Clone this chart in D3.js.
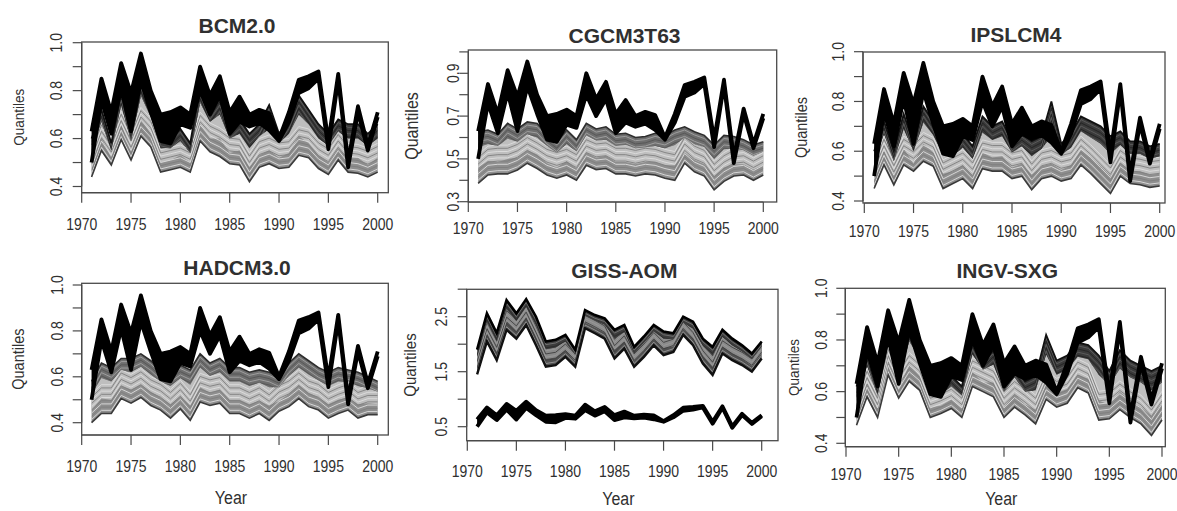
<!DOCTYPE html>
<html>
<head>
<meta charset="utf-8">
<script src="https://cdn.jsdelivr.net/npm/d3@7"></script>
<style>
  html, body { margin: 0; padding: 0; background: #fff; }
  svg { display: block; }
  text { font-family: "Liberation Sans", Arial, sans-serif; fill: #303030; }
</style>
</head>
<body>
<svg id="chart" width="1177" height="511"></svg>
<script>
const years = [1971, 1972, 1973, 1974, 1975, 1976, 1977, 1978, 1979, 1980,
               1981, 1982, 1983, 1984, 1985, 1986, 1987, 1988, 1989, 1990,
               1991, 1992, 1993, 1994, 1995, 1996, 1997, 1998, 1999, 2000];
const xTicks = [1970, 1975, 1980, 1985, 1990, 1995, 2000];

// observed quantile band (black), same in every panel
const obsHi = [0.63, 0.85, 0.71, 0.915, 0.79, 0.955, 0.80, 0.70, 0.71, 0.73, 0.70, 0.90, 0.78, 0.86, 0.71,
               0.775, 0.70, 0.72, 0.705, 0.60, 0.71, 0.845, 0.86, 0.88, 0.59, 0.87, 0.505, 0.735, 0.57, 0.71];
const obsLo = [0.50, 0.76, 0.62, 0.81, 0.63, 0.84, 0.71, 0.59, 0.58, 0.66, 0.645, 0.80, 0.70, 0.78, 0.62,
               0.67, 0.65, 0.665, 0.635, 0.59, 0.67, 0.79, 0.81, 0.85, 0.555, 0.845, 0.48, 0.71, 0.55, 0.69];

// model quantiles: lowest, lower-middle, upper-middle, highest
const bcmLo = [0.44, 0.55, 0.49, 0.595, 0.51, 0.61, 0.565, 0.46, 0.47, 0.48, 0.46, 0.59, 0.545, 0.525, 0.495,
               0.49, 0.42, 0.48, 0.495, 0.475, 0.48, 0.53, 0.52, 0.475, 0.45, 0.51, 0.46, 0.455, 0.44, 0.46];
const bcmQ1 = [0.49, 0.60, 0.52, 0.66, 0.55, 0.68, 0.62, 0.50, 0.51, 0.53, 0.50, 0.66, 0.60, 0.60, 0.54,
               0.55, 0.48, 0.53, 0.55, 0.52, 0.54, 0.61, 0.58, 0.53, 0.50, 0.56, 0.52, 0.52, 0.49, 0.52];
const bcmQ2 = [0.55, 0.67, 0.55, 0.74, 0.59, 0.78, 0.69, 0.56, 0.56, 0.59, 0.54, 0.75, 0.67, 0.70, 0.60,
               0.62, 0.56, 0.61, 0.64, 0.58, 0.62, 0.70, 0.66, 0.60, 0.57, 0.63, 0.60, 0.60, 0.57, 0.60];
const bcmHi = [0.60, 0.72, 0.58, 0.80, 0.63, 0.85, 0.75, 0.61, 0.60, 0.64, 0.58, 0.82, 0.72, 0.78, 0.64,
               0.68, 0.62, 0.66, 0.74, 0.62, 0.68, 0.78, 0.72, 0.66, 0.62, 0.68, 0.66, 0.66, 0.62, 0.66];

const cgcmLo = [0.386, 0.425, 0.43, 0.43, 0.448, 0.48, 0.455, 0.425, 0.41, 0.425, 0.40, 0.47, 0.45, 0.455, 0.43,
                0.43, 0.42, 0.43, 0.425, 0.41, 0.40, 0.48, 0.44, 0.42, 0.355, 0.395, 0.42, 0.425, 0.40, 0.425];
const cgcmQ1 = [0.46, 0.49, 0.485, 0.50, 0.505, 0.54, 0.52, 0.48, 0.46, 0.49, 0.455, 0.53, 0.505, 0.515, 0.485,
                0.485, 0.475, 0.485, 0.485, 0.47, 0.47, 0.53, 0.495, 0.475, 0.42, 0.46, 0.475, 0.475, 0.45, 0.47];
const cgcmQ2 = [0.555, 0.57, 0.56, 0.595, 0.58, 0.615, 0.60, 0.56, 0.53, 0.57, 0.535, 0.61, 0.585, 0.59, 0.56,
                0.565, 0.55, 0.555, 0.56, 0.55, 0.565, 0.60, 0.57, 0.555, 0.50, 0.545, 0.55, 0.54, 0.515, 0.535];
const cgcmHi = [0.627, 0.635, 0.615, 0.666, 0.64, 0.673, 0.666, 0.615, 0.58, 0.635, 0.59, 0.666, 0.64, 0.65, 0.615,
                0.62, 0.60, 0.605, 0.62, 0.61, 0.635, 0.65, 0.627, 0.61, 0.565, 0.61, 0.605, 0.59, 0.565, 0.58];

const ipslLo = [0.45, 0.545, 0.465, 0.545, 0.52, 0.56, 0.54, 0.45, 0.47, 0.49, 0.45, 0.53, 0.52, 0.52, 0.49,
                0.50, 0.445, 0.49, 0.50, 0.48, 0.49, 0.545, 0.51, 0.47, 0.43, 0.50, 0.47, 0.465, 0.455, 0.46];
const ipslQ1 = [0.495, 0.60, 0.505, 0.61, 0.55, 0.63, 0.595, 0.51, 0.52, 0.545, 0.50, 0.595, 0.575, 0.58, 0.535,
                0.55, 0.505, 0.54, 0.55, 0.525, 0.545, 0.605, 0.575, 0.54, 0.50, 0.555, 0.52, 0.52, 0.505, 0.51];
const ipslQ2 = [0.555, 0.67, 0.56, 0.69, 0.60, 0.715, 0.665, 0.585, 0.58, 0.615, 0.57, 0.675, 0.645, 0.66, 0.595,
                0.62, 0.58, 0.61, 0.66, 0.585, 0.615, 0.68, 0.655, 0.63, 0.59, 0.625, 0.59, 0.59, 0.57, 0.58];
const ipslHi = [0.60, 0.72, 0.60, 0.75, 0.63, 0.78, 0.72, 0.64, 0.63, 0.67, 0.62, 0.74, 0.70, 0.72, 0.64,
                0.67, 0.64, 0.66, 0.80, 0.63, 0.67, 0.74, 0.72, 0.70, 0.66, 0.68, 0.64, 0.64, 0.62, 0.63];

const hadLo = [0.40, 0.44, 0.44, 0.505, 0.485, 0.51, 0.475, 0.455, 0.42, 0.46, 0.41, 0.49, 0.475, 0.485, 0.44,
               0.44, 0.42, 0.44, 0.41, 0.45, 0.47, 0.505, 0.47, 0.455, 0.42, 0.44, 0.455, 0.42, 0.435, 0.435];
const hadQ1 = [0.455, 0.505, 0.50, 0.56, 0.545, 0.565, 0.535, 0.51, 0.48, 0.515, 0.475, 0.555, 0.53, 0.545, 0.50,
               0.50, 0.48, 0.495, 0.475, 0.495, 0.525, 0.565, 0.53, 0.51, 0.48, 0.50, 0.51, 0.48, 0.485, 0.48];
const hadQ2 = [0.525, 0.595, 0.58, 0.63, 0.62, 0.645, 0.61, 0.58, 0.56, 0.595, 0.565, 0.64, 0.605, 0.62, 0.58,
               0.58, 0.56, 0.575, 0.555, 0.555, 0.605, 0.64, 0.61, 0.585, 0.56, 0.58, 0.58, 0.56, 0.55, 0.535];
const hadHi = [0.58, 0.66, 0.64, 0.68, 0.68, 0.70, 0.67, 0.63, 0.62, 0.65, 0.63, 0.70, 0.66, 0.68, 0.64,
               0.64, 0.62, 0.63, 0.62, 0.60, 0.66, 0.70, 0.67, 0.64, 0.62, 0.64, 0.63, 0.62, 0.60, 0.58];

const gissLo = [1.45, 2.05, 1.71, 2.26, 2.10, 2.35, 1.98, 1.59, 1.62, 1.77, 1.59, 2.29, 2.20, 2.10, 1.74,
                1.92, 1.59, 1.77, 1.98, 1.80, 1.86, 2.17, 1.98, 1.65, 1.44, 1.83, 1.71, 1.62, 1.50, 1.74];
const gissQ1 = [1.58, 2.20, 1.86, 2.42, 2.24, 2.49, 2.14, 1.73, 1.76, 1.89, 1.68, 2.39, 2.30, 2.21, 1.90,
                2.05, 1.70, 1.88, 2.09, 1.93, 1.96, 2.27, 2.11, 1.79, 1.59, 1.96, 1.83, 1.73, 1.60, 1.83];
const gissQ2 = [1.77, 2.41, 2.05, 2.64, 2.42, 2.68, 2.34, 1.91, 1.94, 2.05, 1.81, 2.52, 2.43, 2.36, 2.10,
                2.22, 1.84, 2.03, 2.24, 2.10, 2.10, 2.40, 2.28, 1.97, 1.80, 2.13, 1.98, 1.87, 1.73, 1.96];
const gissHi = [1.90, 2.56, 2.20, 2.80, 2.56, 2.82, 2.50, 2.05, 2.08, 2.17, 1.90, 2.62, 2.53, 2.47, 2.26,
                2.35, 1.95, 2.14, 2.35, 2.23, 2.20, 2.50, 2.41, 2.10, 1.95, 2.26, 2.10, 1.98, 1.83, 2.05];

const ingvLo = [0.47, 0.58, 0.50, 0.665, 0.575, 0.64, 0.605, 0.50, 0.515, 0.535, 0.50, 0.62, 0.60, 0.58, 0.50,
                0.54, 0.51, 0.475, 0.57, 0.54, 0.555, 0.615, 0.595, 0.49, 0.495, 0.53, 0.50, 0.475, 0.43, 0.49];
const ingvQ1 = [0.515, 0.63, 0.535, 0.715, 0.605, 0.705, 0.66, 0.54, 0.545, 0.57, 0.535, 0.675, 0.635, 0.635, 0.54,
                0.59, 0.55, 0.53, 0.645, 0.595, 0.61, 0.665, 0.65, 0.565, 0.55, 0.60, 0.565, 0.54, 0.505, 0.555];
const ingvQ2 = [0.575, 0.70, 0.585, 0.78, 0.65, 0.795, 0.73, 0.60, 0.59, 0.62, 0.585, 0.745, 0.685, 0.705, 0.60,
                0.655, 0.60, 0.605, 0.745, 0.665, 0.685, 0.735, 0.725, 0.665, 0.625, 0.69, 0.655, 0.635, 0.605, 0.635];
const ingvHi = [0.62, 0.75, 0.62, 0.83, 0.68, 0.86, 0.78, 0.64, 0.62, 0.66, 0.62, 0.80, 0.72, 0.76, 0.64,
                0.70, 0.64, 0.66, 0.82, 0.72, 0.74, 0.79, 0.78, 0.74, 0.68, 0.76, 0.72, 0.70, 0.68, 0.70];

const unitTicks = [0.4, 0.5, 0.6, 0.7, 0.8, 0.9, 1.0];
const unitLabels = ['0.4', '0.6', '0.8', '1.0'];
const cgcmTicks = [0.3, 0.4, 0.5, 0.6, 0.7, 0.8, 0.9, 1.0];
const cgcmLabels = ['0.3', '0.5', '0.7', '0.9'];
const gissTicks = [0.5, 1.0, 1.5, 2.0, 2.5, 3.0];
const gissLabels = ['0.5', '1.5', '2.5'];

// colour sets for the model quantile bands
const tones = {
  light: { body: '#8e8e8e', mid: '#bebebe', top: '#6e6e6e', sLow: ['#dedede', '#7e7e7e'],
           sUp: ['#a4a4a4', '#555'], edgeLo: '#3a3a3a', edgeHi: '#2e2e2e', wLo: 1.6, wHi: 1.6 },
  deep:  { body: '#8e8e8e', mid: '#bebebe', top: '#3a3a3a', sLow: ['#dedede', '#7e7e7e'],
           sUp: ['#5e5e5e', '#222'], edgeLo: '#3a3a3a', edgeHi: '#111', wLo: 1.6, wHi: 1.8 },
  dark:  { body: '#505050', mid: '#8a8a8a', top: '#3c3c3c', sLow: ['#9a9a9a', '#404040'],
           sUp: ['#777', '#2a2a2a'], edgeLo: '#111', edgeHi: '#000', wLo: 2.4, wHi: 2.6 }
};

const panels = [
  { title: 'BCM2.0', q: [bcmLo, bcmQ1, bcmQ2, bcmHi], yTicks: unitTicks, yLabels: unitLabels, tone: 'deep',
    box: [81.7, 388.3, 42, 192.7], xr: [81.7, 377.7], yv: [0.4, 1.0], yr: [186.5, 42.7],
    titleY: 33, labOff: 26, labX: 18, labSize: 13.5, xLabDy: 37, year: false },
  { title: 'CGCM3T63', q: [cgcmLo, cgcmQ1, cgcmQ2, cgcmHi], yTicks: cgcmTicks, yLabels: cgcmLabels, tone: 'light',
    box: [468.3, 776.7, 50, 202], xr: [468.3, 763.3], yv: [0.3, 0.9], yr: [201.7, 73.3],
    titleY: 43, labOff: 15, labX: 411, labSize: 16, xLabDy: 32, year: false },
  { title: 'IPSLCM4', q: [ipslLo, ipslQ1, ipslQ2, ipslHi], yTicks: unitTicks, yLabels: unitLabels, tone: 'deep',
    box: [863, 1165, 52, 203], xr: [864.3, 1159.7], yv: [0.4, 1.0], yr: [201, 51.7],
    titleY: 42, labOff: 25, labX: 801, labSize: 14.5, xLabDy: 34, year: false },
  { title: 'HADCM3.0', q: [hadLo, hadQ1, hadQ2, hadHi], yTicks: unitTicks, yLabels: unitLabels, tone: 'light',
    box: [81.7, 388.3, 283.3, 435], xr: [81.7, 377.7], yv: [0.4, 1.0], yr: [422.7, 285],
    titleY: 275, labOff: 25, labX: 18, labSize: 14.5, xLabDy: 37, year: true, yearY: 504 },
  { title: 'GISS-AOM', q: [gissLo, gissQ1, gissQ2, gissHi], yTicks: gissTicks, yLabels: gissLabels, tone: 'dark',
    box: [466.7, 778, 289.3, 440.7], xr: [467.3, 761.7], yv: [0.5, 2.5], yr: [426.7, 316.7],
    titleY: 278, labOff: 26, labX: 410, labSize: 15, xLabDy: 36, year: true, yearY: 505 },
  { title: 'INGV-SXG', q: [ingvLo, ingvQ1, ingvQ2, ingvHi], yTicks: unitTicks, yLabels: unitLabels, tone: 'deep',
    box: [845.3, 1165.3, 288.3, 446.7], xr: [846, 1162], yv: [0.4, 1.0], yr: [443.3, 288.3],
    titleY: 278, labOff: 24, labX: 793, labSize: 13.5, xLabDy: 33, year: true, yearY: 505 }
];

const svg = d3.select('#chart');

function drawPanel(p, idx) {
  const [bl, br, bt, bb] = p.box;
  const c = tones[p.tone];
  const x = d3.scaleLinear().domain([1970, 2000]).range(p.xr);
  const y = d3.scaleLinear().domain(p.yv).range(p.yr);
  const g = svg.append('g').attr('class', 'panel');

  const area = (a, b) => d3.area()
    .x((d, i) => x(years[i]))
    .y0((d, i) => y(a[i]))
    .y1((d, i) => y(b[i]))(years);
  const line = (a) => d3.line()
    .x((d, i) => x(years[i]))
    .y((d, i) => y(a[i]))(years);

  const defs = g.append('defs');
  defs.append('clipPath').attr('id', 'box' + idx)
    .append('rect').attr('x', bl).attr('y', bt).attr('width', br - bl).attr('height', bb - bt);
  defs.append('clipPath').attr('id', 'low' + idx)
    .append('path').attr('d', area(p.q[0], p.q[2]));
  defs.append('clipPath').attr('id', 'up' + idx)
    .append('path').attr('d', area(p.q[2], p.q[3]));

  const plot = g.append('g').attr('clip-path', `url(#box${idx})`);
  const [lo, q1, q2, hi] = p.q;

  // model quantile bands
  plot.append('path').attr('d', area(lo, hi)).attr('fill', c.body);
  plot.append('path').attr('d', area(q1, q2)).attr('fill', c.mid);
  plot.append('path').attr('d', area(q2, hi)).attr('fill', c.top);

  // stripes following the quantile curves
  const low = plot.append('g').attr('clip-path', `url(#low${idx})`);
  const up = plot.append('g').attr('clip-path', `url(#up${idx})`);
  for (let k = 1; k <= 9; k++) {
    low.append('path').attr('d', line(lo))
      .attr('transform', `translate(0,${-k * 3.2})`)
      .attr('fill', 'none').attr('stroke', c.sLow[k % 2 ? 0 : 1]).attr('stroke-width', 0.9);
    up.append('path').attr('d', line(hi))
      .attr('transform', `translate(0,${k * 3.2})`)
      .attr('fill', 'none').attr('stroke', c.sUp[k % 2 ? 0 : 1]).attr('stroke-width', 0.9);
  }
  plot.append('path').attr('d', line(lo)).attr('fill', 'none')
    .attr('stroke', c.edgeLo).attr('stroke-width', c.wLo);
  plot.append('path').attr('d', line(hi)).attr('fill', 'none')
    .attr('stroke', c.edgeHi).attr('stroke-width', c.wHi);

  // observed band
  plot.append('path').attr('d', area(obsLo, obsHi)).attr('fill', '#000');
  [obsLo, obsHi].forEach(s => {
    plot.append('path').attr('d', line(s)).attr('fill', 'none')
      .attr('stroke', '#000').attr('stroke-width', 3.8).attr('stroke-linejoin', 'round');
  });

  // frame
  g.append('rect').attr('x', bl).attr('y', bt).attr('width', br - bl).attr('height', bb - bt)
    .attr('fill', 'none').attr('stroke', '#4a4a4a').attr('stroke-width', 1.3);

  // x axis
  const xa = g.append('g').attr('stroke', '#4a4a4a').attr('stroke-width', 1.2);
  xa.append('line').attr('x1', x(1970)).attr('x2', x(2000)).attr('y1', bb).attr('y2', bb);
  xTicks.forEach(t => {
    xa.append('line').attr('x1', x(t)).attr('x2', x(t)).attr('y1', bb).attr('y2', bb + 10);
    g.append('text')
      .attr('transform', `translate(${x(t)},${bb + p.xLabDy}) scale(1,1.2)`)
      .attr('text-anchor', 'middle').attr('font-size', 14).text(t);
  });

  // y axis
  const ya = g.append('g').attr('stroke', '#4a4a4a').attr('stroke-width', 1.2);
  const yt = p.yTicks;
  ya.append('line').attr('x1', bl).attr('x2', bl).attr('y1', y(yt[0])).attr('y2', y(yt[yt.length - 1]));
  yt.forEach(t => {
    ya.append('line').attr('x1', bl - 9).attr('x2', bl).attr('y1', y(t)).attr('y2', y(t));
  });
  p.yLabels.forEach(s => {
    g.append('text')
      .attr('transform', `translate(${bl - p.labOff},${y(+s)}) rotate(-90) scale(1,1.2)`)
      .attr('text-anchor', 'middle').attr('dy', '0.36em').attr('font-size', 14).text(s);
  });

  // labels
  g.append('text').attr('x', (bl + br) / 2 + 2).attr('y', p.titleY)
    .attr('text-anchor', 'middle').attr('font-size', 21).attr('font-weight', 'bold')
    .attr('fill', '#1e1e1e').text(p.title);
  g.append('text')
    .attr('transform', `translate(${p.labX},${(bt + bb) / 2}) rotate(-90) scale(1,1.15)`)
    .attr('text-anchor', 'middle').attr('dy', '0.36em').attr('font-size', p.labSize).text('Quantiles');
  if (p.year) {
    g.append('text')
      .attr('transform', `translate(${(bl + br) / 2 - 4},${p.yearY}) scale(1,1.1)`)
      .attr('text-anchor', 'middle').attr('font-size', 16).text('Year');
  }
}

panels.forEach(drawPanel);
</script>
</body>
</html>
